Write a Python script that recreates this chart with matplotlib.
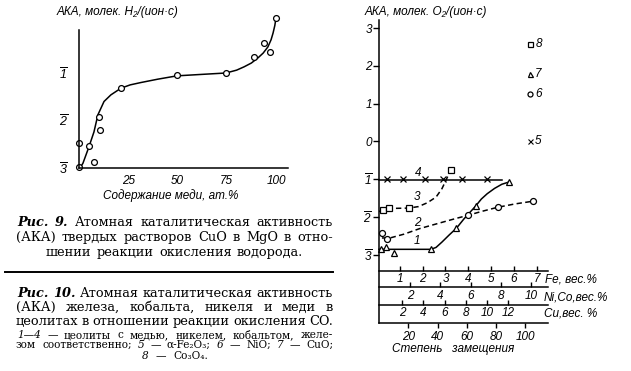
import matplotlib
matplotlib.use('Agg')
import matplotlib.pyplot as plt
from matplotlib import font_manager as fm
from matplotlib.lines import Line2D

W, H = 631, 371

names = {f.name for f in fm.fontManager.ttflist}
SANS = 'Liberation Sans Narrow' if 'Liberation Sans Narrow' in names else 'Liberation Sans'
SERIF = 'DejaVu Serif'

plt.rcParams.update({
    'mathtext.fontset': 'custom',
    'mathtext.rm': f'{SANS}:italic',
    'mathtext.it': f'{SANS}:italic',
    'mathtext.bf': f'{SANS}:italic:bold',
    'axes.linewidth': 1.1,
    'font.family': [SANS, 'DejaVu Sans'],
    'font.style': 'italic',
})

# ---------------- Fig. 9 data ----------------
cu_content = [0, 0, 5, 7.6, 10.2, 10.7, 21.3, 49.7, 74.6, 88.8, 93.9, 97, 100]
aka_h2 = [-2.47, -2.98, -2.54, -2.87, -1.93, -2.2, -1.32, -1.04, -1.0, -0.66, -0.37, -0.56, 0.16]
curve9_x = [0.5, 2, 5, 7.6, 9.6, 12.7, 16.2, 21.3, 26, 31.5, 40, 49.7, 62, 74.6, 80, 83.8, 87.5, 90.9, 93.5, 95.9, 97.5, 98.5, 99.4, 100]
curve9_y = [-3, -2.9, -2.56, -2.24, -1.88, -1.6, -1.46, -1.32, -1.25, -1.2, -1.13, -1.06, -1.03, -1.0, -0.94, -0.87, -0.79, -0.68, -0.58, -0.45, -0.3, -0.16, 0.0, 0.16]
x9_ticks = [25, 50, 75, 100]
y9_ticks = [-1, -2, -3]
y9_labels = [r'$\overline{1}$', r'$\overline{2}$', r'$\overline{3}$']

# ---------------- Fig. 10 data ----------------
# 1 - Cu zeolite (triangles, solid)
s1_x = [1.4, 4.8, 10.3, 35.6, 52.6, 66.3, 88.9]
s1_y = [-2.85, -2.79, -2.95, -2.85, -2.29, -1.71, -1.07]
c1_x = [0, 35.5, 39, 43, 48, 53, 58, 62, 66, 70, 74, 79, 84, 89]
c1_y = [-2.85, -2.85, -2.8, -2.66, -2.47, -2.29, -2.05, -1.88, -1.71, -1.52, -1.38, -1.24, -1.13, -1.07]
# 2 - Ni zeolite (circles, dashed)
s2_x = [2.1, 5.5, 60.9, 81.4, 105.3]
s2_y = [-2.42, -2.58, -1.95, -1.74, -1.58]
c2_x = [2, 7.5, 17, 28, 40, 53, 61, 70, 81, 93, 105]
c2_y = [-2.55, -2.55, -2.45, -2.3, -2.17, -2.03, -1.95, -1.85, -1.74, -1.65, -1.58]
# 3 - Co zeolite (squares, dashed)
s3_x = [2.7, 6.8, 20.5, 49.2]
s3_y = [-1.81, -1.76, -1.76, -0.76]
c3_x = [0, 6.8, 20.5, 27, 33, 39, 43, 45.5, 47.5, 49]
c3_y = [-1.85, -1.77, -1.76, -1.72, -1.62, -1.47, -1.25, -1.05, -0.88, -0.78]
# 4 - Fe zeolite (crosses, solid)
s4_x = [5.5, 16.4, 31.5, 43.8, 56.8, 73.8]
s4_y = [-1.0, -1.0, -1.0, -1.0, -1.0, -1.0]
c4_x = [0, 84]
c4_y = [-1.02, -1.02]
# bulk oxides 5-8
oxide_labels = ['5', '6', '7', '8']
oxide_aka = [0.0, 1.25, 1.78, 2.58]
oxide_markers = ['x', 'o', '^', 's']

y10_ticks = [3, 2, 1, 0, -1, -2, -3]
y10_labels = ['3', '2', '1', '0', r'$\overline{1}$', r'$\overline{2}$', r'$\overline{3}$']
deg_ticks = [20, 40, 60, 80, 100]
fe_ticks = [1, 2, 3, 4, 5, 6, 7]
ni_ticks = [2, 4, 6, 8, 10]
cu_ticks = [2, 4, 6, 8, 10, 12]


def fx(px):
    return px / W


def fy(py):
    return 1 - py / H


def rect(l, t, r, b):
    return [fx(l), fy(b), (r - l) / W, (b - t) / H]


fig = plt.figure(figsize=(6.31, 3.71), dpi=100)

# ================= Fig. 9 =================
ax9 = fig.add_axes(rect(79, 30, 288, 168))
ax9.set_xlim(0, (288 - 79) / 1.97)
ax9.set_ylim(-3, -3 + 138 / 47.5)
for s in ['top', 'right']:
    ax9.spines[s].set_visible(False)
ax9.plot(curve9_x, curve9_y, color='black', lw=1.1, clip_on=False)
ax9.plot(cu_content, aka_h2, ls='none', marker='o', ms=4.2, mfc='white', mec='black', mew=0.9, clip_on=False)
ax9.set_xticks(x9_ticks)
ax9.set_xticklabels([str(v) for v in x9_ticks], fontsize=8.5)
ax9.set_yticks(y9_ticks)
ax9.set_yticklabels(y9_labels, fontsize=9)
ax9.tick_params(axis='x', length=0, pad=5)
ax9.tick_params(axis='y', length=0, pad=8)
fig.text(fx(57), fy(12), 'АКА, молек. H₂/(ион·с)', fontsize=8.5, va='center', ha='left')
fig.text(fx(171), fy(196), 'Содержание меди, ат.%', fontsize=8.5, va='center', ha='center')

# ================= Fig. 10 =================
L, R, T, B = 379, 548, 20, 323
ax10 = fig.add_axes(rect(L, T, R, B))
ax10.set_xlim(0, (R - L) / 1.4625)
ax10.set_ylim(-3 - (B - 255) / 37.83, 3 + (28 - T) / 37.83)
for s in ['top', 'right']:
    ax10.spines[s].set_visible(False)

kw = dict(color='black', lw=1.1, clip_on=False)
mk = dict(ls='none', mfc='white', mec='black', mew=0.9, clip_on=False)
ax10.plot(c1_x, c1_y, **kw)
ax10.plot(c2_x, c2_y, dashes=(3.5, 2.2), **kw)
ax10.plot(c3_x, c3_y, dashes=(3.5, 2.2), **kw)
ax10.plot(c4_x, c4_y, **kw)
ax10.plot(s1_x, s1_y, marker='^', ms=5, **mk)
ax10.plot(s2_x, s2_y, marker='o', ms=4.3, **mk)
ax10.plot(s3_x, s3_y, marker='s', ms=4.3, **mk)
ax10.plot(s4_x, s4_y, marker='x', ms=4, ls='none', color='black', mew=0.9, clip_on=False)

for lab, val, m in zip(oxide_labels, oxide_aka, oxide_markers):
    if m == 'x':
        ax10.plot([103], [val], marker=m, ms=3.6, ls='none', color='black', mew=0.8)
    else:
        ax10.plot([103], [val], marker=m, ms=3.6, **mk)
    ax10.annotate(lab, (103, val), xytext=(4, 0), textcoords='offset points',
                  va='center', ha='left', fontsize=8.5)

# series labels
for lab, xv, yv in [('1', 26, -2.62), ('2', 26, -2.15), ('3', 26, -1.47), ('4', 27, -0.82)]:
    ax10.text(xv, yv, lab, fontsize=8.5, ha='center', va='center')

ax10.set_yticks(y10_ticks)
ax10.set_yticklabels(y10_labels, fontsize=8.5)
ax10.tick_params(axis='y', direction='out', length=4, width=1, pad=1)
ax10.set_xticks(deg_ticks)
ax10.set_xticklabels([str(v) for v in deg_ticks], fontsize=8.5)
ax10.tick_params(axis='x', direction='out', length=3.5, width=1, pad=2)


def deg2px(d):
    return L + 1.4625 * d


def px2deg(p):
    return (p - L) / 1.4625


def make_sec(loc_px, zero_px, slope, ticks, pad):
    frac = (B - loc_px) / (B - T)
    sec = ax10.secondary_xaxis(
        frac,
        functions=(lambda d: (deg2px(d) - zero_px) / slope,
                   lambda v: px2deg(zero_px + slope * v)))
    sec.set_xticks(ticks)
    sec.set_xticklabels([str(v) for v in ticks], fontsize=8.5)
    sec.tick_params(direction='in', length=3.5, width=1, pad=pad)
    for sp in sec.spines.values():
        sp.set_linewidth(1.1)
    return sec


make_sec(271, 377, 22.83, fe_ticks, 1.5)
make_sec(287, 380, 15.1, ni_ticks, 2.0)
make_sec(305, 381, 10.6, cu_ticks, 1.5)

fig.text(fx(545), fy(279), 'Fe, вес.%', fontsize=8.5, va='center', ha='left')
fig.text(fx(544), fy(297), 'Ni,Co,вес.%', fontsize=8.5, va='center', ha='left')
fig.text(fx(544), fy(314), 'Cu,вес. %', fontsize=8.5, va='center', ha='left')
fig.text(fx(453), fy(349), 'Степень   замещения', fontsize=8.5, va='center', ha='center')
fig.text(fx(365), fy(12), 'АКА, молек. O₂/(ион·с)', fontsize=8.5, va='center', ha='left')

# ================= Captions =================
renderer = fig.canvas.get_renderer()
SER = [SERIF]
big = dict(fontsize=9.3, family=SER, style='normal')
bigi = dict(fontsize=9.3, family=SER, style='italic', weight='bold')
sml = dict(fontsize=7.6, family=SER, style='normal')
smli = dict(fontsize=7.6, family=SER, style='italic')


def justify(words, base_y, x0, x1):
    texts = []
    total = 0
    for w, props in words:
        t = fig.text(0, fy(base_y), w, va='baseline', ha='left', **props)
        wd = t.get_window_extent(renderer).width
        texts.append((t, wd))
        total += wd
    gap = (x1 - x0 - total) / max(len(words) - 1, 1)
    x = x0
    for t, wd in texts:
        t.set_x(fx(x))
        x += wd + gap


def words(s, props):
    return [(w, props) for w in s.split()]


cap9 = [
    (words('Рис. 9.', bigi) + words('Атомная каталитическая активность', big), 226, 17, 333),
    (words('(АКА) твердых растворов CuO в MgO в отно-', big), 241, 16, 333),
    (words('шении реакции окисления водорода.', big), 256, 46, 303),
]
cap10 = [
    (words('Рис. 10.', bigi) + words('Атомная каталитическая активность', big), 297, 17, 333),
    (words('(АКА) железа, кобальта, никеля и меди в', big), 311, 16, 333),
    (words('цеолитах в отношении реакции окисления CO.', big), 325, 16, 333),
    (words('1—4', smli) + words('— цеолиты с медью, никелем, кобальтом, желе-', sml), 338, 17, 333),
    ([('зом', sml), ('соответственно;', sml), ('5', smli), ('—', sml), ('α-Fe₂O₃;', sml),
      ('6', smli), ('—', sml), ('NiO;', sml), ('7', smli), ('—', sml), ('CuO;', sml)], 348, 16, 333),
    ([('8', smli), ('—', sml), ('Co₃O₄.', sml)], 359, 142, 208),
]
for ws, by, x0, x1 in cap9 + cap10:
    justify(ws, by, x0, x1)

fig.add_artist(Line2D([fx(5), fx(333)], [fy(272), fy(272)], color='black', lw=1.4))

fig.savefig('out.png', dpi=100)
